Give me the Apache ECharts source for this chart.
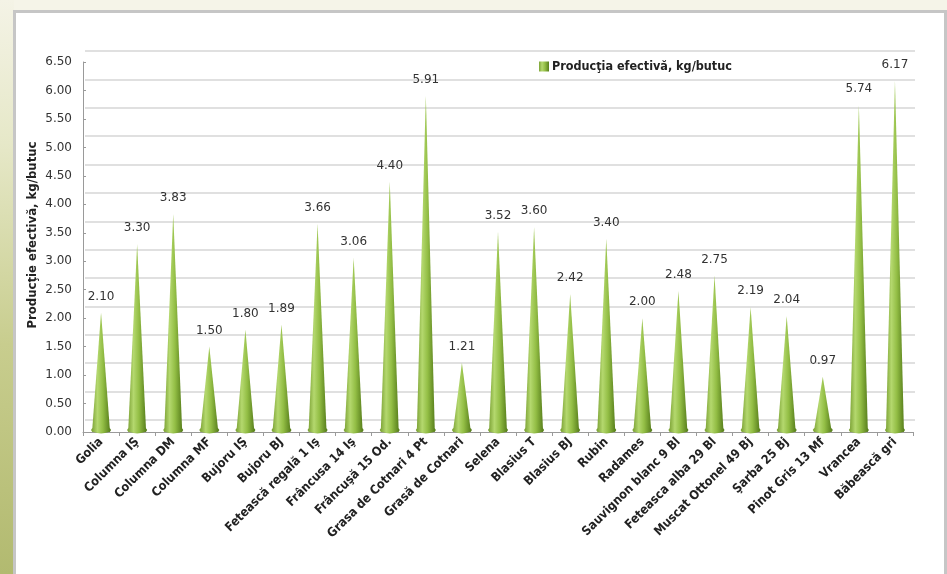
<!DOCTYPE html>
<html>
<head>
<meta charset="utf-8">
<script src="https://cdn.jsdelivr.net/npm/echarts@6/dist/echarts.min.js"></script>
<style>
  html, body { margin: 0; padding: 0; background: #f5f4e8; }
  #chart { width: 947px; height: 574px; }
</style>
</head>
<body>
<div id="chart"></div>
<script>
// Grape varieties and their measured yield per vine
const categories = [
  'Golia', 'Columna IŞ', 'Columna DM', 'Columna MF', 'Bujoru IŞ', 'Bujoru BJ',
  'Fetească regală 1 Iş', 'Frâncusa 14 Iş', 'Frâncuşă 15 Od.', 'Grasa de Cotnari 4 Pt',
  'Grasă de Cotnari', 'Selena', 'Blasius T', 'Blasius BJ', 'Rubin', 'Radames',
  'Sauvignon blanc 9 Bl', 'Feteasca alba 29 Bl', 'Muscat Ottonel 49 Bj', 'Şarba 25 Bj',
  'Pinot Gris 13 Mf', 'Vrancea', 'Băbească gri'
];
const yieldValues = [
  2.10, 3.30, 3.83, 1.50, 1.80, 1.89,
  3.66, 3.06, 4.40, 5.91,
  1.21, 3.52, 3.60, 2.42, 3.40, 2.00,
  2.48, 2.75, 2.19, 2.04,
  0.97, 5.74, 6.17
];
const seriesName = 'Producţia efectivă, kg/butuc';
const axisTitle = 'Producţie efectivă, kg/butuc';
const yMin = 0, yMax = 6.5, yStep = 0.5;

const chart = echarts.init(document.getElementById('chart'), null, { renderer: 'canvas' });

const coneFill = new echarts.graphic.LinearGradient(0, 0, 1, 0, [
  { offset: 0, color: '#7ea437' },
  { offset: 0.3, color: '#b4d86e' },
  { offset: 0.6, color: '#93be45' },
  { offset: 1, color: '#587f1c' }
]);
const baseFill = new echarts.graphic.LinearGradient(0, 0, 1, 0, [
  { offset: 0, color: '#789e34' },
  { offset: 0.35, color: '#aed068' },
  { offset: 0.6, color: '#8cb840' },
  { offset: 1, color: '#537a1a' }
]);

const labelFont = 'DejaVu Sans, sans-serif';
const boldFont = "'Liberation Sans Narrow', 'DejaVu Sans Condensed', sans-serif";

chart.setOption({
  backgroundColor: '#f5f4e8',
  animation: false,
  graphic: [
    // left strip shading
    {
      type: 'rect', silent: true, z: -10,
      shape: { x: 0, y: 0, width: 14, height: 574 },
      style: {
        fill: new echarts.graphic.LinearGradient(0, 0, 0, 1, [
          { offset: 0, color: '#f4f3e6' },
          { offset: 0.25, color: '#e6e8c8' },
          { offset: 0.6, color: '#c8cd8e' },
          { offset: 1, color: '#b2ba70' }
        ])
      }
    },
    // white chart panel with grey frame
    {
      type: 'rect', silent: true, z: -9,
      shape: { x: 14.5, y: 11.5, width: 931, height: 580 },
      style: { fill: '#ffffff', stroke: '#c6c6c6', lineWidth: 3 }
    }
  ],
  legend: {
    data: [seriesName],
    left: 534, top: 55,
    itemWidth: 10, itemHeight: 10, itemGap: 4,
    icon: 'rect',
    textStyle: { fontFamily: boldFont, fontWeight: 'bold', fontSize: 12.5, color: '#222', padding: [0, 0, 0, -2] }
  },
  grid: [
    // back wall with gridlines
    { left: 85, right: 32, top: 51, bottom: 154, show: false },
    // main plotting area
    { left: 83, right: 34, top: 62, bottom: 142, show: false }
  ],
  xAxis: [
    { gridIndex: 0, type: 'category', data: categories, show: false },
    {
      gridIndex: 1, type: 'category', data: categories,
      axisLine: { show: true, lineStyle: { color: '#9a9a9a', width: 1 } },
      axisTick: { show: true, length: 4, lineStyle: { color: '#9a9a9a' } },
      axisLabel: {
        rotate: 45, interval: 0, margin: 8,
        fontFamily: boldFont, fontWeight: 'bold', fontSize: 12.5, color: '#222'
      }
    }
  ],
  yAxis: [
    {
      gridIndex: 0, type: 'value', min: yMin, max: yMax, interval: yStep,
      axisLine: { show: false }, axisTick: { show: false }, axisLabel: { show: false },
      splitLine: { show: true, lineStyle: { color: '#d6d6d6', width: 1.5 } }
    },
    {
      gridIndex: 1, type: 'value', min: yMin, max: yMax, interval: yStep,
      name: axisTitle, nameLocation: 'middle', nameGap: 44, nameRotate: 90,
      nameMoveOverlap: false,
      nameTextStyle: {
        fontFamily: boldFont, fontWeight: 'bold', fontSize: 13, color: '#222',
        padding: [0, 0, 0, 24]
      },
      axisLine: { show: true, lineStyle: { color: '#9a9a9a', width: 1 } },
      axisTick: { show: true, inside: true, length: 3, lineStyle: { color: '#9a9a9a' } },
      splitLine: { show: false },
      axisLabel: {
        margin: 11, fontFamily: labelFont, fontSize: 12, color: '#333',
        formatter: v => v.toFixed(2)
      }
    }
  ],
  series: [
    {
      name: seriesName,
      type: 'pictorialBar',
      xAxisIndex: 1, yAxisIndex: 1,
      data: yieldValues,
      symbol: 'path://M0,100 L50,0 L100,100 Z',
      symbolSize: [18, '100%'],
      symbolPosition: 'end',
      barGap: '-100%',
      z: 3,
      itemStyle: { color: coneFill },
      label: {
        show: true, position: 'top', distance: 10,
        fontFamily: labelFont, fontSize: 12, color: '#333',
        formatter: p => p.value.toFixed(2)
      }
    },
    {
      name: 'base',
      type: 'pictorialBar',
      xAxisIndex: 1, yAxisIndex: 1,
      data: yieldValues,
      symbol: 'circle',
      symbolSize: [20, 7],
      symbolPosition: 'start',
      symbolOffset: [0, '20%'],
      barGap: '-100%',
      z: 2,
      itemStyle: { color: baseFill },
      label: { show: false },
      tooltip: { show: false }
    }
  ]
});
</script>
</body>
</html>
